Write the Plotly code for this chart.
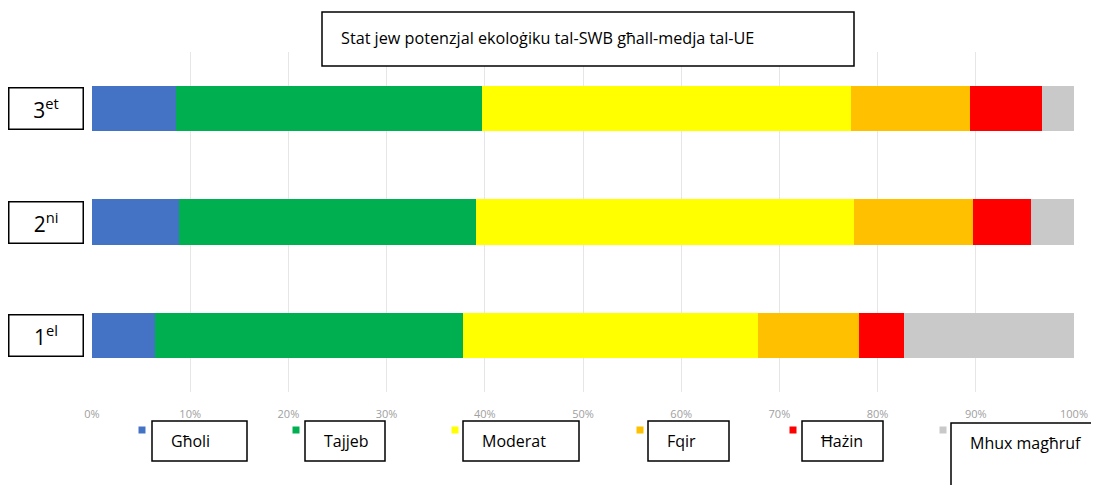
import plotly.graph_objects as go

# ---- data ----
categories = ["1el", "2ni", "3et"]
category_labels = ["1<sup>el</sup>", "2<sup>ni</sup>", "3<sup>et</sup>"]
series_names = ["Għoli", "Tajjeb", "Moderat", "Fqir", "Ħażin", "Mhux magħruf"]
series_colors = ["#4472C4", "#00B050", "#FFFF00", "#FFC000", "#FF0000", "#C9C9C9"]
gholi = [6.4, 8.9, 8.6]
tajjeb = [31.4, 30.2, 31.1]
moderat = [30.0, 38.5, 37.6]
fqir = [10.3, 12.1, 12.1]
hazin = [4.6, 5.9, 7.3]
mhux_maghruf = [17.3, 4.4, 3.3]
series_values = [gholi, tajjeb, moderat, fqir, hazin, mhux_maghruf]
tick_values = list(range(0, 101, 10))
tick_labels = [f"{v}%" for v in tick_values]
title_text = "Stat jew potenzjal ekoloġiku tal-SWB għall-medja tal-UE"

# ---- layout geometry (page pixels; page body has an 8px margin) ----
OFF = 8
W, H = 1099 - OFF, 485 - OFF
L, R, T, B = 92, 1074, 52, 392  # plot area in page pixels
PW, PH = R - L, B - T


def px(x):
    return (x - L) / PW


def py(y):
    return (B - y) / PH


FONT = "Open Sans, Segoe UI, Noto Sans, sans-serif"

fig = go.Figure()
for name, color, vals in zip(series_names, series_colors, series_values):
    fig.add_trace(go.Bar(
        y=categories, x=vals, name=name, orientation="h",
        marker=dict(color=color, line=dict(width=0)),
        showlegend=False,
    ))

shapes = []
annotations = []

# title box
shapes.append(dict(type="rect", xref="paper", yref="paper",
                   x0=px(322), x1=px(854), y0=py(66), y1=py(12),
                   line=dict(color="black", width=1.5), fillcolor="white"))
annotations.append(dict(xref="paper", yref="paper", x=px(339), y=py(38),
                        xanchor="left", yanchor="middle", showarrow=False,
                        text=title_text, font=dict(family=FONT, size=16.2, color="black")))

# y-axis boxed category labels
for cat, lab in zip(categories, category_labels):
    annotations.append(dict(xref="paper", yref="y", x=px(46), y=cat,
                            xanchor="center", yanchor="middle", showarrow=False,
                            text=lab, width=73, height=40, borderpad=0,
                            bordercolor="black", borderwidth=1.5, bgcolor="white",
                            font=dict(family=FONT, size=21, color="black")))

# custom legend
sq_x = [142, 296, 455, 640, 793, 943]
box_x = [(152, 247), (305, 385), (463, 579), (648, 729), (802, 883), (951, 1120)]
for i, (name, color) in enumerate(zip(series_names, series_colors)):
    sx = sq_x[i]
    shapes.append(dict(type="rect", xref="paper", yref="paper",
                       x0=px(sx - 3.5), x1=px(sx + 3.5), y0=py(433.5), y1=py(426.5),
                       line=dict(width=0), fillcolor=color))
    bx0, bx1 = box_x[i]
    last = i == len(series_names) - 1
    by0, by1 = (423, 520) if last else (421, 461)
    shapes.append(dict(type="rect", xref="paper", yref="paper",
                       x0=px(bx0), x1=px(bx1), y0=py(by1), y1=py(by0),
                       line=dict(color="black", width=1.5), fillcolor="white"))
    annotations.append(dict(xref="paper", yref="paper", x=px(bx0 + 17),
                            y=py(443 if last else 441),
                            xanchor="left", yanchor="middle", showarrow=False,
                            text=name, font=dict(family=FONT, size=16, color="black")))

fig.update_layout(
    width=W, height=H,
    margin=dict(l=L - OFF, r=W - (R - OFF), t=T - OFF, b=H - (B - OFF), autoexpand=False),
    barmode="stack", bargap=0.6,
    paper_bgcolor="white", plot_bgcolor="white",
    shapes=shapes, annotations=annotations,
    xaxis=dict(range=[0, 100], tickvals=tick_values, ticktext=tick_labels,
               showgrid=True, gridcolor="#E6E6E6", gridwidth=1,
               zeroline=False, showline=False,
               ticks="outside", ticklen=12, tickcolor="rgba(0,0,0,0)",
               tickfont=dict(family=FONT, size=11, color="#A0A0A0")),
    yaxis=dict(categoryorder="array", categoryarray=categories,
               range=[-0.5, 2.5], showticklabels=False, showgrid=False,
               zeroline=False, showline=False),
)

fig.write_html("out.html")
